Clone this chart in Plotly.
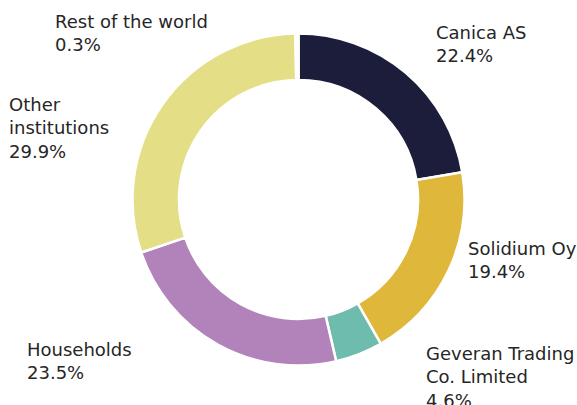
import plotly.graph_objects as go

categories = ["Canica AS", "Solidium Oy", "Geveran Trading Co. Limited",
              "Households", "Other institutions", "Rest of the world"]
display_labels = ["Canica AS", "Solidium Oy", "Geveran Trading<br>Co. Limited",
                  "Households", "Other<br>institutions", "Rest of the world"]
shares = [22.4, 19.4, 4.6, 23.5, 29.9, 0.3]
colors = ["#1c1d3b", "#dfb83b", "#6dbcad", "#b283ba", "#e4df86", "#ffffff"]

W, H = 577, 405
cx, cy, R = 298.5, 199.5, 166

fig = go.Figure(go.Pie(
    labels=categories, values=shares, sort=False, direction="clockwise",
    rotation=0, hole=0.72, textinfo="none", hoverinfo="label+percent",
    marker=dict(colors=colors, line=dict(color="#ffffff", width=2.5)),
    domain=dict(x=[(cx - R) / W, (cx + R) / W],
                y=[(H - cy - R) / H, (H - cy + R) / H]),
    showlegend=False,
))

# label anchor positions (left x, cap-top y) in pixels
label_pos = [(435, 28), (467, 244), (425, 349), (26, 345), (8, 100), (54, 17)]
fs = 18
for name, val, (lx, ly) in zip(display_labels, shares, label_pos):
    fig.add_annotation(
        x=lx / W, y=1 - (ly - 0.38 * fs) / H, xref="paper", yref="paper",
        xanchor="left", yanchor="top", align="left", showarrow=False,
        text=f"{name}<br>{val:.1f}%",
        font=dict(family="DejaVu Sans", size=fs, color="#262626"),
        borderpad=0,
    )

fig.update_layout(width=W, height=H, margin=dict(l=0, r=0, t=0, b=0),
                  paper_bgcolor="white", plot_bgcolor="white")
fig.write_html("out.html")
